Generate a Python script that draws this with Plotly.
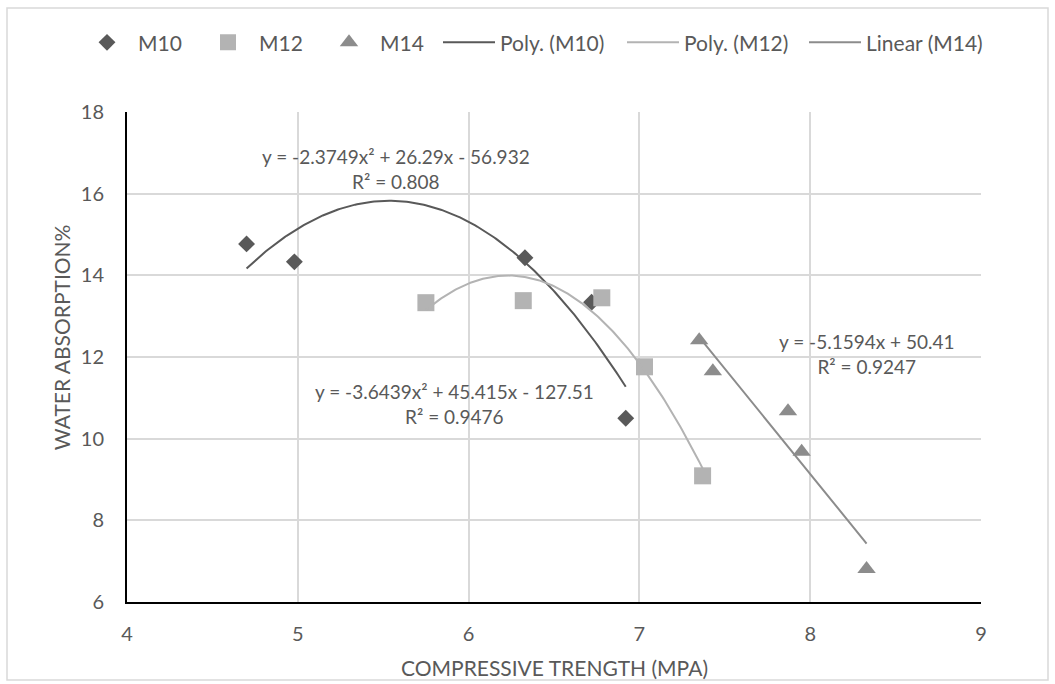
import numpy as np
import plotly.graph_objects as go

# Measured points: compressive strength (MPa) vs water absorption (%)
m10_x = [4.70, 4.98, 6.33, 6.72, 6.92]
m10_y = [14.77, 14.33, 14.43, 13.34, 10.50]
m12_x = [5.75, 6.32, 6.78, 7.03, 7.37]
m12_y = [13.33, 13.38, 13.45, 11.76, 9.09]
m14_x = [7.35, 7.43, 7.87, 7.95, 8.33]
m14_y = [12.41, 11.65, 10.67, 9.68, 6.81]

# Trendline coefficients (highest power first)
poly_m10 = [-2.3749, 26.29, -56.932]
poly_m12 = [-3.6439, 45.415, -127.51]
lin_m14 = [-5.1594, 50.41]
r2_m10, r2_m12, r2_m14 = 0.808, 0.9476, 0.9247

x_ticks = [4, 5, 6, 7, 8, 9]
y_ticks = [6, 8, 10, 12, 14, 16, 18]

C10, C12, C14 = "#595959", "#b3b3b3", "#8c8c8c"
TXT = "#595959"
FONT = "Lato"
W, H = 1055, 684
L, R, T, B = 127, 74, 112, 82
PW, PH = W - L - R, H - T - B


def trend(coeffs, xs):
    grid = np.linspace(min(xs), max(xs), 200)
    return grid, np.polyval(coeffs, grid)


fig = go.Figure()
fig.add_trace(go.Scatter(x=m10_x, y=m10_y, mode="markers", name="M10", legend="legend",
                         marker=dict(symbol="diamond", size=13, color=C10)))
fig.add_trace(go.Scatter(x=m12_x, y=m12_y, mode="markers", name="M12", legend="legend2",
                         marker=dict(symbol="square", size=17, color=C12)))
fig.add_trace(go.Scatter(x=m14_x, y=m14_y, mode="markers", name="M14", legend="legend3",
                         marker=dict(symbol="triangle-up", size=16, color=C14)))

tx, ty = trend(poly_m10, m10_x)
fig.add_trace(go.Scatter(x=tx, y=ty, mode="lines", name="Poly. (M10)", legend="legend4",
                         line=dict(color=C10, width=2)))
tx, ty = trend(poly_m12, m12_x)
fig.add_trace(go.Scatter(x=tx, y=ty, mode="lines", name="Poly. (M12)", legend="legend5",
                         line=dict(color=C12, width=2)))
tx, ty = trend(lin_m14, m14_x)
fig.add_trace(go.Scatter(x=tx, y=ty, mode="lines", name="Linear (M14)", legend="legend6",
                         line=dict(color=C14, width=2)))


def fmt_poly(c):
    a, b, k = c
    return (f"y = {a}x² + {b}x - {abs(k)}" if k < 0 else f"y = {a}x² + {b}x + {k}")


eq_font = dict(family=FONT, size=19, color=TXT)
title_font = dict(family=FONT, size=21, color=TXT)
annotations = [
    dict(x=5.572, y=16.61, xref="x", yref="y", showarrow=False, align="center",
         text=f"{fmt_poly(poly_m10)}<br>R² = {r2_m10}", font=eq_font),
    dict(x=5.92, y=10.85, xref="x", yref="y", showarrow=False, align="center",
         text=f"{fmt_poly(poly_m12)}<br>R² = {r2_m12}", font=eq_font),
    dict(x=8.33, y=12.07, xref="x", yref="y", showarrow=False, align="center",
         text=f"y = {lin_m14[0]}x + {lin_m14[1]}<br>R² = {r2_m14}", font=eq_font),
    # axis titles, positioned in plot-area paper units
    dict(x=0.5, y=-(667 - (H - B)) / PH, xref="paper", yref="paper",
         xanchor="center", yanchor="middle", showarrow=False,
         text="COMPRESSIVE TRENGTH (MPA)", font=title_font),
    dict(x=(61.7 - L) / PW, y=((H - B) - 337.5) / PH, xref="paper", yref="paper",
         xanchor="center", yanchor="middle", showarrow=False, textangle=-90,
         text="WATER ABSORPTION%", font=title_font),
]

# one single-entry legend per series so each entry sits at its own spot
legend_font = dict(family=FONT, size=21, color=TXT)
legend_left = [76, 197, 318, 438, 622, 804]
legends = {}
for i, lx in enumerate(legend_left):
    key = "legend" if i == 0 else f"legend{i + 1}"
    legends[key] = dict(orientation="h", xref="container", yref="container",
                        x=lx / W, y=1 - 42.7 / H, xanchor="left", yanchor="middle",
                        font=legend_font, itemwidth=52, bgcolor="rgba(0,0,0,0)",
                        borderwidth=0)

fig.update_layout(
    width=W, height=H,
    margin=dict(l=L, r=R, t=T, b=B),
    paper_bgcolor="white", plot_bgcolor="white",
    font=dict(family=FONT, size=19, color=TXT),
    showlegend=True,
    annotations=annotations,
    shapes=[dict(type="rect", xref="paper", yref="paper",
                 x0=(7 - L) / PW, x1=(1048 - L) / PW,
                 y0=((H - B) - 680) / PH, y1=((H - B) - 8) / PH,
                 line=dict(color="#d9d9d9", width=1.5), layer="below")],
    **legends,
)
fig.update_xaxes(range=[4, 9], tickvals=x_ticks, ticktext=[str(v) for v in x_ticks],
                 showgrid=True, gridcolor="#d9d9d9", gridwidth=1.5,
                 showline=True, linecolor="black", linewidth=2,
                 zeroline=False, ticks="", ticklabelstandoff=13,
                 tickfont=dict(family=FONT, size=20, color=TXT))
fig.update_yaxes(range=[6, 18], tickvals=y_ticks, ticktext=[str(v) for v in y_ticks],
                 showgrid=True, gridcolor="#d9d9d9", gridwidth=1.5,
                 showline=True, linecolor="black", linewidth=2,
                 zeroline=False, ticks="", ticklabelstandoff=17,
                 tickfont=dict(family=FONT, size=20, color=TXT))

fig.write_html("out.html")
